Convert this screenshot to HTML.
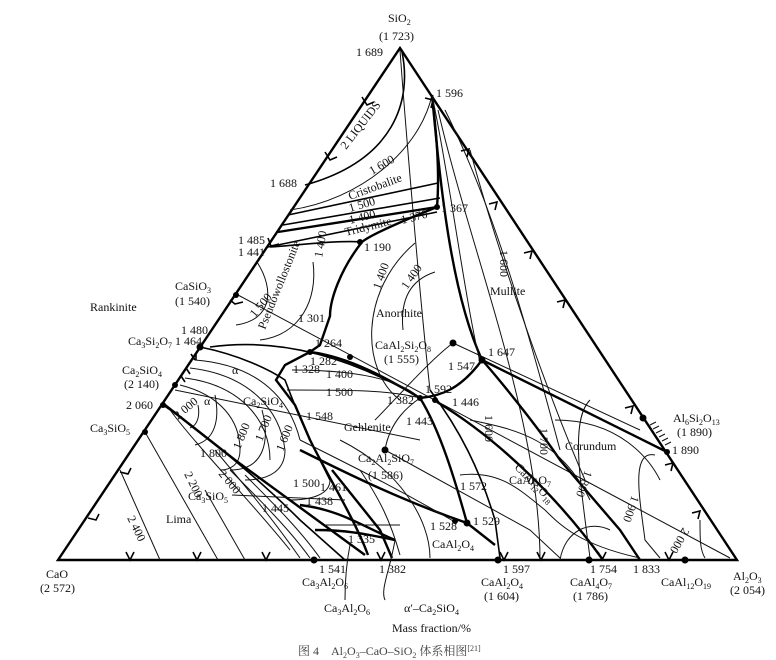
<!DOCTYPE html>
<html><head><meta charset="utf-8"><style>
html,body{margin:0;padding:0;background:#fff;}
svg{display:block;}
text{font-family:"Liberation Serif","Noto Serif CJK SC",serif;font-size:12px;fill:#111;}
.b{stroke:#000;stroke-width:2.4;fill:none;}
.m{stroke:#000;stroke-width:1.6;fill:none;}
.t{stroke:#111;stroke-width:1;fill:none;}
</style></head><body>
<svg width="776" height="660" viewBox="0 0 776 660" xmlns="http://www.w3.org/2000/svg">
<path class="b" d="M400,48 L58,560 L737,560 Z"/>
<g class="m">
<path d="M362,97 l5,8 l7,-3"/><path d="M325,152 l5,8 l7,-3"/><path d="M268,238 l3,8 l8,-2"/><path d="M230,300 l5,4 l8,-2"/>
<path d="M191,354 l4,6"/><path d="M196,360 l0,-6"/><path d="M186,368 l4,6"/><path d="M181,376 l4,6"/>
<path d="M120,472 l8,2 l3,-6"/><path d="M88,518 l8,2 l3,-6"/>
<path d="M126,552 l4,8 l4,-8"/><path d="M193,552 l4,8 l4,-8"/><path d="M262,552 l4,8 l4,-8"/><path d="M377,552 l4,8 l4,-8"/><path d="M500,552 l4,8 l4,-8"/><path d="M537,552 l4,8 l4,-8"/><path d="M598,552 l4,8 l4,-8"/><path d="M665,552 l4,8 l4,-8"/>
<path d="M425,98 l8,2 l-2,8"/><path d="M461,151 l8,-2 l-2,8"/><path d="M489,204 l8,-2 l-2,8"/><path d="M524,253 l8,-2 l-2,8"/><path d="M557,302 l8,-2 l-2,8"/><path d="M625,408 l8,-2 l-2,8"/><path d="M665,465 l8,-2 l-2,8"/><path d="M692,513 l8,-2 l-2,8"/>
</g>
<g class="t"><path d="M650,425 l6,-3 M653,429 l6,-3 M656,433 l6,-3 M659,437 l6,-3 M662,441 l6,-3 M665,445 l6,-3"/></g>
<path class="m" d="M402,52 C412,100 395,160 305,185"/>
<path class="t" d="M290,210 C360,200 420,150 432,95"/>
<path class="t" d="M400,50 C405,120 420,300 430,390"/>
<path class="m" d="M288,215 L438,183"/>
<path class="m" d="M283,225 L440,198"/>
<path class="b" d="M278,232 L437,207"/>
<path class="m" d="M268,247 L437,212"/>
<path class="b" d="M432,95 C436,130 440,170 437,207"/>
<path class="b" d="M432,95 C440,180 450,290 482,360"/>
<path class="t" d="M432,95 C450,180 465,300 480,362"/>
<path class="t" d="M438,110 C470,250 540,420 540,560"/>
<path class="t" d="M445,110 C490,200 520,300 560,450"/>
<path class="t" d="M470,150 C500,260 550,400 585,480"/>
<path class="b" d="M437,207 C400,222 370,235 362,242 C340,270 330,300 330,316 L320,345 L310,352 L285,365 L276,380 L295,405 L310,440 C330,480 355,520 368,555"/>
<path class="m" d="M270,247 C300,245 340,240 362,242"/>
<path class="t" d="M257,262 C275,290 272,320 236,325"/>
<path class="t" d="M313,262 C318,300 300,335 260,340"/>
<path class="m" d="M210,347 C260,340 330,345 420,398"/>
<path class="b" d="M310,352 C350,357 390,380 420,398"/>
<path class="t" d="M238,295 L730,558"/>
<path class="t" d="M415,243 C360,290 360,370 400,400"/>
<path class="t" d="M435,272 C410,280 400,300 403,330"/>
<path class="t" d="M375,420 C395,400 430,360 453,343"/>
<path class="b" d="M420,398 C440,396 460,390 482,360"/>
<path class="b" d="M482,360 L667,452"/>
<path class="t" d="M453,343 L640,430"/>
<path class="t" d="M292,370 C360,370 400,380 420,398"/>
<path class="t" d="M287,390 C350,390 390,390 420,398"/>
<path class="m" d="M200,347 C240,355 270,370 285,380 C300,420 310,440 330,480"/>
<path class="t" d="M195,360 C260,365 290,400 300,440"/>
<path class="t" d="M190,368 C250,375 280,410 285,450"/>
<path class="t" d="M185,378 C240,385 270,420 270,460"/>
<path class="t" d="M180,385 C220,395 240,420 240,450 C240,465 230,470 220,470"/>
<path class="t" d="M215,395 C220,420 215,440 195,445"/>
<path class="t" d="M198,405 C200,415 198,425 190,428"/>
<path class="t" d="M175,390 L420,440"/>
<path class="t" d="M262,410 C270,440 265,470 230,470"/>
<path class="t" d="M285,450 C285,470 270,480 245,480"/>
<path class="t" d="M330,480 C330,495 310,500 290,500"/>
<path class="m" d="M163,405 C200,430 260,480 300,520 L345,560"/>
<path class="b" d="M165,405 L235,460 L365,555"/>
<path class="t" d="M170,410 C200,450 250,500 290,550"/>
<path class="t" d="M215,450 C240,480 270,515 300,558"/>
<path class="t" d="M230,470 C260,500 290,530 310,558"/>
<path class="t" d="M245,475 C275,505 300,530 320,558"/>
<path class="t" d="M145,432 L218,560"/>
<path class="t" d="M120,470 L160,560"/>
<path class="t" d="M205,490 L245,560"/>
<path class="t" d="M232,495 L345,500"/>
<path class="b" d="M300,505 C340,510 360,525 395,540"/>
<path class="b" d="M315,530 C350,530 370,535 395,540"/>
<path class="t" d="M325,525 L400,525"/>
<path class="t" d="M360,470 C380,500 390,520 400,555"/>
<path class="b" d="M332,470 L380,530 L392,558"/>
<path class="t" d="M395,540 C390,570 380,590 385,600"/>
<path class="t" d="M350,545 C345,570 345,590 345,600"/>
<path class="b" d="M420,398 C440,430 455,480 467,523"/>
<path class="b" d="M437,402 C500,440 560,500 603,560"/>
<path class="m" d="M430,390 C460,430 480,470 495,520 L500,558"/>
<path class="b" d="M300,450 C340,470 400,500 467,523 L495,545"/>
<path class="t" d="M385,450 C390,420 410,405 420,398"/>
<path class="t" d="M385,450 L530,530 L560,558"/>
<path class="t" d="M300,440 C360,470 400,490 455,522"/>
<path class="t" d="M340,440 C400,470 430,520 430,558"/>
<path class="b" d="M482,360 C500,380 540,430 560,460 L620,530 L640,560"/>
<path class="t" d="M470,420 C520,430 560,440 590,500"/>
<path class="t" d="M460,475 C500,470 520,490 545,510 C560,525 580,545 640,558"/>
<path class="t" d="M560,560 C565,530 590,520 610,530"/>
<path class="t" d="M555,420 C620,420 650,460 660,480"/>
<path class="t" d="M590,400 C570,420 580,480 590,558"/>
<path class="t" d="M655,455 C630,450 640,500 645,540 L660,558"/>
<path class="t" d="M700,520 C700,540 700,550 705,558"/>
<g fill="#000">
<circle cx="236" cy="295" r="3"/><circle cx="200" cy="347" r="3.5"/><circle cx="175" cy="385" r="3"/><circle cx="163" cy="405" r="3"/><circle cx="145" cy="432" r="3"/>
<circle cx="437" cy="207" r="3"/><circle cx="453" cy="343" r="3.5"/><circle cx="482" cy="360" r="3.5"/><circle cx="420" cy="398" r="3"/><circle cx="435" cy="400" r="3"/>
<circle cx="385" cy="450" r="3.5"/><circle cx="467" cy="523" r="3.5"/><circle cx="455" cy="521" r="3"/><circle cx="643" cy="418" r="3.5"/><circle cx="667" cy="452" r="3"/>
<circle cx="314" cy="560" r="3.5"/><circle cx="498" cy="560" r="3.5"/><circle cx="589" cy="560" r="3.5"/><circle cx="685" cy="560" r="3.5"/><circle cx="310" cy="352" r="3"/><circle cx="350" cy="357" r="3"/><circle cx="360" cy="242" r="3"/>
</g>
<text x="388" y="22">SiO<tspan font-size="8" dy="3">2</tspan></text>
<text x="379" y="40">(1 723)</text>
<text x="356" y="56">1 689</text>
<text x="436" y="97">1 596</text>
<text x="346" y="150" transform="rotate(-52 346 150)">2 LIQUIDS</text>
<text x="372" y="175" transform="rotate(-30 372 175)">1 600</text>
<text x="350" y="200" transform="rotate(-20 350 200)">Cristobalite</text>
<text x="350" y="212" transform="rotate(-16 350 212)">1 500</text>
<text x="270" y="187">1 688</text>
<text x="346" y="236" transform="rotate(-14 346 236)">Tridymite</text>
<text x="350" y="224" transform="rotate(-14 350 224)">1 400</text>
<text x="402" y="224" transform="rotate(-14 402 224)">1 370</text>
<text x="441" y="212">1 367</text>
<text x="364" y="251">1 190</text>
<text x="238" y="244">1 485</text>
<text x="238" y="256">1 441</text>
<text x="175" y="290">CaSiO<tspan font-size="8" dy="3">3</tspan></text>
<text x="175" y="305">(1 540)</text>
<text x="90" y="311">Rankinite</text>
<text x="255" y="318" transform="rotate(-50 255 318)">1 500</text>
<text x="265" y="330" transform="rotate(-68 265 330)">Pseudowollostonite</text>
<text x="322" y="258" transform="rotate(-80 322 258)">1 400</text>
<text x="298" y="322">1 301</text>
<text x="380" y="290" transform="rotate(-70 380 290)">1 400</text>
<text x="407" y="290" transform="rotate(-55 407 290)">1 400</text>
<text x="376" y="317">Anorthite</text>
<text x="375" y="349">CaAl<tspan font-size="8" dy="3">2</tspan><tspan dy="-3">Si</tspan><tspan font-size="8" dy="3">2</tspan><tspan dy="-3">O</tspan><tspan font-size="8" dy="3">8</tspan></text>
<text x="384" y="363">(1 555)</text>
<text x="490" y="295">Mullite</text>
<text x="500" y="250" transform="rotate(90 500 250)">1 600</text>
<text x="488" y="356">1 647</text>
<text x="448" y="370">1 547</text>
<text x="425" y="393">1 592</text>
<text x="452" y="406">1 446</text>
<text x="387" y="404">1 382</text>
<text x="406" y="425">1 443</text>
<text x="315" y="347">1 264</text>
<text x="310" y="365">1 282</text>
<text x="293" y="373">1 328</text>
<text x="326" y="378">1 400</text>
<text x="326" y="396">1 500</text>
<text x="306" y="420">1 548</text>
<text x="344" y="431">Gehlenite</text>
<text x="358" y="462">Ca<tspan font-size="8" dy="3">2</tspan><tspan dy="-3">Al</tspan><tspan font-size="8" dy="3">2</tspan><tspan dy="-3">SiO</tspan><tspan font-size="8" dy="3">7</tspan></text>
<text x="368" y="479">(1 586)</text>
<text x="181" y="334">1 480</text>
<text x="128" y="345">Ca<tspan font-size="8" dy="3">3</tspan><tspan dy="-3">Si</tspan><tspan font-size="8" dy="3">2</tspan><tspan dy="-3">O</tspan><tspan font-size="8" dy="3">7</tspan></text>
<text x="175" y="345">1 464</text>
<text x="122" y="374">Ca<tspan font-size="8" dy="3">2</tspan><tspan dy="-3">SiO</tspan><tspan font-size="8" dy="3">4</tspan></text>
<text x="124" y="388">(2 140)</text>
<text x="126" y="409">2 060</text>
<text x="90" y="432">Ca<tspan font-size="8" dy="3">3</tspan><tspan dy="-3">SiO</tspan><tspan font-size="8" dy="3">5</tspan></text>
<text x="232" y="374">α</text>
<text x="204" y="405">α</text>
<text x="178" y="420" transform="rotate(-40 178 420)">2 000</text>
<text x="243" y="405">Ca<tspan font-size="8" dy="3">2</tspan><tspan dy="-3">SiO</tspan><tspan font-size="8" dy="3">4</tspan></text>
<text x="240" y="450" transform="rotate(-68 240 450)">1 800</text>
<text x="262" y="442" transform="rotate(-68 262 442)">1 700</text>
<text x="283" y="452" transform="rotate(-68 283 452)">1 600</text>
<text x="200" y="457">1 800</text>
<text x="293" y="487">1 500</text>
<text x="320" y="491">1 461</text>
<text x="306" y="505">1 438</text>
<text x="262" y="512">1 445</text>
<text x="184" y="474" transform="rotate(64 184 474)">2 200</text>
<text x="218" y="474" transform="rotate(50 218 474)">2 000</text>
<text x="188" y="500">Ca<tspan font-size="8" dy="3">3</tspan><tspan dy="-3">SiO</tspan><tspan font-size="8" dy="3">5</tspan></text>
<text x="127" y="518" transform="rotate(64 127 518)">2 400</text>
<text x="166" y="523">Lima</text>
<text x="348" y="543">1 335</text>
<text x="430" y="530">1 528</text>
<text x="473" y="525">1 529</text>
<text x="432" y="548">CaAl<tspan font-size="8" dy="3">2</tspan><tspan dy="-3">O</tspan><tspan font-size="8" dy="3">4</tspan></text>
<text x="460" y="490">1 572</text>
<text x="509" y="484">CaAl<tspan font-size="8" dy="3">4</tspan><tspan dy="-3">O</tspan><tspan font-size="8" dy="3">7</tspan></text>
<text x="514" y="468" transform="rotate(45 514 468)">CaAl<tspan font-size="8" dy="3">12</tspan><tspan dy="-3">O</tspan><tspan font-size="8" dy="3">18</tspan></text>
<text x="565" y="450">Corundum</text>
<text x="540" y="428" transform="rotate(90 540 428)">1 700</text>
<text x="585" y="470" transform="rotate(110 585 470)">1 800</text>
<text x="632" y="495" transform="rotate(110 632 495)">1 900</text>
<text x="683" y="527" transform="rotate(120 683 527)">2 000</text>
<text x="485" y="415" transform="rotate(90 485 415)">1 600</text>
<text x="673" y="422">Al<tspan font-size="8" dy="3">6</tspan><tspan dy="-3">Si</tspan><tspan font-size="8" dy="3">2</tspan><tspan dy="-3">O</tspan><tspan font-size="8" dy="3">13</tspan></text>
<text x="677" y="436">(1 890)</text>
<text x="672" y="454">1 890</text>
<text x="46" y="578">CaO</text>
<text x="40" y="592">(2 572)</text>
<text x="319" y="573">1 541</text>
<text x="302" y="586">Ca<tspan font-size="8" dy="3">3</tspan><tspan dy="-3">Al</tspan><tspan font-size="8" dy="3">2</tspan><tspan dy="-3">O</tspan><tspan font-size="8" dy="3">6</tspan></text>
<text x="379" y="573">1 382</text>
<text x="324" y="612">Ca<tspan font-size="8" dy="3">3</tspan><tspan dy="-3">Al</tspan><tspan font-size="8" dy="3">2</tspan><tspan dy="-3">O</tspan><tspan font-size="8" dy="3">6</tspan></text>
<text x="404" y="612">α′–Ca<tspan font-size="8" dy="3">2</tspan><tspan dy="-3">SiO</tspan><tspan font-size="8" dy="3">4</tspan></text>
<text x="503" y="573">1 597</text>
<text x="481" y="586">CaAl<tspan font-size="8" dy="3">2</tspan><tspan dy="-3">O</tspan><tspan font-size="8" dy="3">4</tspan></text>
<text x="484" y="600">(1 604)</text>
<text x="590" y="573">1 754</text>
<text x="570" y="586">CaAl<tspan font-size="8" dy="3">4</tspan><tspan dy="-3">O</tspan><tspan font-size="8" dy="3">7</tspan></text>
<text x="573" y="600">(1 786)</text>
<text x="633" y="573">1 833</text>
<text x="661" y="586">CaAl<tspan font-size="8" dy="3">12</tspan><tspan dy="-3">O</tspan><tspan font-size="8" dy="3">19</tspan></text>
<text x="733" y="580">Al<tspan font-size="8" dy="3">2</tspan><tspan dy="-3">O</tspan><tspan font-size="8" dy="3">3</tspan></text>
<text x="730" y="594">(2 054)</text>
<text x="392" y="632">Mass fraction/%</text>
<text x="298" y="655" style="fill:#444">图 4　Al<tspan font-size="8" dy="3">2</tspan><tspan dy="-3">O</tspan><tspan font-size="8" dy="3">3</tspan><tspan dy="-3">–CaO–SiO</tspan><tspan font-size="8" dy="3">2</tspan><tspan dy="-3"> 体系相图</tspan><tspan font-size="8" dy="-4">[21]</tspan></text>
</svg>
</body></html>
